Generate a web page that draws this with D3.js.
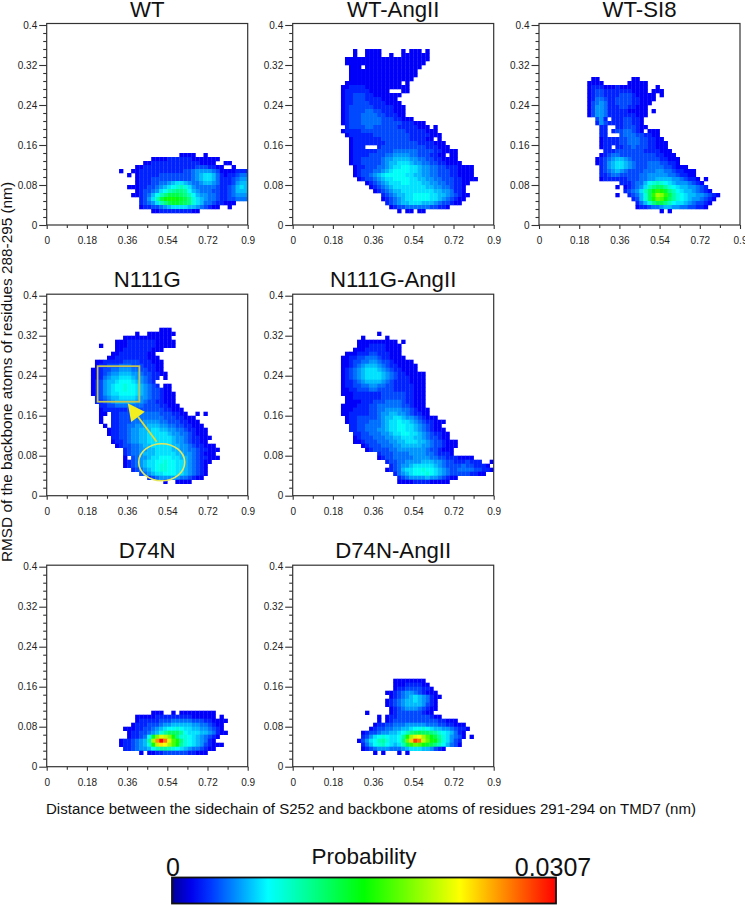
<!DOCTYPE html>
<html lang="en">

<head>
	<meta charset="utf-8">
	<script src='https://d3js.org/d3.v7.min.js'></script>
	<style>
		body { margin: 0; background: #fff; }
		svg { display: block; font-family: "Liberation Sans", sans-serif; }
	</style>
</head>

<body>
	<script>
		var width = 745,
			height = 905;

		// each histogram row: [rmsd bin, first distance bin, levels]
		// levels are base 36 (z = top of the colour bar), "." is an empty bin
		var wtRows = [
			[17, 33, "2222..2"],
			[16, 26, "22223333332222222"],
			[15, 24, "223333333333332222..22"],
			[14, 22, "2233333333333334443322..2"],
			[13, 18, "2..22333333333334456666542222333"],
			[12, 20, "2.2333334444444456788753233455"],
			[11, 22, "2333444444444456788753334566"],
			[10, 22, "2333445567887655677653334677"],
			[9, 20, "222334456789aba865555543345787"],
			[8, 22, "23445689bcddc976555443345777"],
			[7, 21, "2234579bdfffedb97665543345666"],
			[6, 23, "3468bfhiihgfda8765543344555"],
			[5, 23, "34568bdfggfeda8755433222"],
			[4, 23, "23344567888877654322..2"],
			[3, 26, "223333333322"]
		];

		var wtAngRows = [
			[43, 15, "2..2222.....2.222.2"],
			[42, 15, "2..2222..2..2222222"],
			[41, 13, "222222222222222222222"],
			[40, 13, "22222222222222222222"],
			[39, 14, "222.22222222222222"],
			[38, 14, "22222222222222222"],
			[37, 14, "22222222222222222"],
			[36, 14, "2222222222222222"],
			[35, 13, "22222222222222.2"],
			[34, 12, "22333322222222222"],
			[33, 12, "233333322222...22"],
			[32, 12, "233444332222222"],
			[31, 12, "23344433332222"],
			[30, 12, "233444433332222"],
			[29, 12, "2344444433333222"],
			[28, 12, "2344445544333222"],
			[27, 12, "2344455554433322"],
			[26, 12, "234445555544433222"],
			[25, 12, "234445555544444333222"],
			[24, 13, "344445544444433333222.2"],
			[23, 12, "233334444444444433333222"],
			[22, 13, "233333344444444433333222"],
			[21, 14, "233333334444444333322.2"],
			[20, 14, "233333333444444443333222"],
			[19, 14, "2333...344444444444333222"],
			[18, 14, "233333344445555554444332222"],
			[17, 14, "233334444556666554443322.22"],
			[16, 14, "233444445667777665544332222"],
			[15, 14, "2334444456778887665544332222"],
			[14, 15, "233444556788998876655443332222"],
			[13, 15, "234445567899998876655444332222"],
			[12, 15, "234456789999988776655444332222"],
			[11, 16, "234456788999988776655444332222"],
			[10, 18, "23456788899888776655443322"],
			[9, 19, "234567888888887766554332"],
			[8, 20, "23456778888888877665332"],
			[7, 22, "3456778899998877654322"],
			[6, 22, "234567889999887654322"],
			[5, 23, "3456778887776544322"],
			[4, 24, "234455555544332"],
			[3, 26, "2.22.22"]
		];

		var wtSi8Rows = [
			[36, 13, "22........22"],
			[35, 12, "2222......22222"],
			[34, 12, "233322232222222..2"],
			[33, 12, "234433333332222.222"],
			[32, 12, "23443333444322222.2"],
			[31, 12, "23554334444332222"],
			[30, 12, "2456533444433222"],
			[29, 12, "246653334433222"],
			[28, 12, "246653333322222.2"],
			[27, 12, "246653333333222"],
			[26, 14, "463.33344332"],
			[25, 14, "364333344332"],
			[24, 15, "33..33444322"],
			[23, 15, "33.34455432.222"],
			[22, 15, "33...4555443322"],
			[21, 15, "2333344555443322"],
			[20, 15, "23333445554433222"],
			[19, 15, "233.3344544433222"],
			[18, 16, "33344444443333222"],
			[17, 15, "2345544444444433222"],
			[16, 14, "234567765444444433222"],
			[15, 14, "234678876544455544332"],
			[14, 15, "3467887654445555443222"],
			[13, 15, "345676544445556655433222"],
			[12, 15, "334554444455666665543322"],
			[11, 15, "2333333444556677776654332.2"],
			[10, 20, "33345579aba9876665432"],
			[9, 19, "2.234568bdeeca987766543"],
			[8, 21, "34568behjigdb987765432"],
			[7, 19, "2..3457aejnmjfca9877665432"],
			[6, 23, "347aeilkheca987665432"],
			[5, 24, "357adffdb9887654432"],
			[4, 24, "233455677665544332"],
			[3, 30, "2.2"]
		];

		var n111gRows = [
			[41, 28, "222"],
			[40, 22, "2..2222222"],
			[39, 19, "222222222222"],
			[38, 17, "222333333322222"],
			[37, 13, "2...222333333322222"],
			[36, 17, "223333333222"],
			[35, 16, "22333333322"],
			[34, 15, "2233333333222"],
			[33, 12, "22333334444333222"],
			[32, 12, "23344455544433322"],
			[31, 11, "223445566655443322"],
			[30, 11, "2234566777665443322"],
			[29, 11, "22356778887665433.2"],
			[28, 11, "2346778999876543"],
			[27, 11, "23467899a99876543.22"],
			[26, 11, "23467899a99876544322"],
			[25, 11, "234678899998765443222"],
			[24, 12, "34567788887665443222"],
			[23, 12, "33456777776654433222"],
			[22, 13, "33445555555444433222"],
			[21, 13, "233333344444444433222"],
			[20, 13, "22.3344455555554443322..2.2"],
			[19, 13, "2..334445555555544433222"],
			[18, 13, "2..3344455566665544433222"],
			[17, 14, "2.33445566677766554433222"],
			[16, 15, "2334456677788776655433222"],
			[15, 15, "2334456677888887665543222"],
			[14, 16, "3344566778888887665433222"],
			[13, 16, "233456677888888766543322"],
			[12, 17, "2344556778888877665433222"],
			[11, 19, "345566778888776655433222"],
			[10, 19, "34556777888887766543222"],
			[9, 19, "2.4566788999887765433222"],
			[8, 19, "2345678899a99887654322"],
			[7, 19, "234567889aa9988765432"],
			[6, 21, "3456789aa9988765432"],
			[5, 23, "45678899988765432"],
			[4, 25, "34566666554322"],
			[3, 29, "2..2222"]
		];

		var n111gAngRows = [
			[40, 21, "2"],
			[39, 17, "2.....2"],
			[38, 16, "2222222222.2"],
			[37, 16, "22233332222"],
			[36, 15, "222333332222"],
			[35, 13, "22233344333222"],
			[34, 12, "2233445554332222"],
			[33, 12, "223445566544322222"],
			[32, 12, "2234567776543322222"],
			[31, 12, "2345678887654332222"],
			[30, 12, "234567888876543322222"],
			[29, 12, "234567888876543332222"],
			[28, 12, "233456777765433332222"],
			[27, 12, "233445566554433333222"],
			[26, 12, "223344455444433333222"],
			[25, 12, "222333333344444433222"],
			[24, 13, "22333333344444433222"],
			[23, 13, "22223334445555433222"],
			[22, 12, "222233344555555443222"],
			[21, 12, "2223333445566665543222"],
			[20, 12, "2233333445667766543322"],
			[19, 13, "23344444567788766543222"],
			[18, 13, "2334445556788988765433222"],
			[17, 14, "33445555678899887654322"],
			[16, 14, "334455566788998876543222"],
			[15, 15, "334455566788998876543322"],
			[14, 15, "234445556677888776544322"],
			[13, 15, "22344455566778887765443222"],
			[12, 17, "234445556677777665443222"],
			[11, 18, "2344445566666665443222"],
			[10, 21, "3444555566665543332"],
			[9, 21, "234455555666655443332222"],
			[8, 23, "344556666777665443334333..2"],
			[7, 24, "3456678888876544445443332"],
			[6, 23, "234578899a99876544555544332"],
			[5, 25, "35678999a98765444443322"],
			[4, 26, "345666676654322"],
			[3, 26, "2222333322222"]
		];

		var d74nRows = [
			[13, 26, "222..2.222222222"],
			[12, 22, "22222333333333222222.2"],
			[11, 22, "23333344455555444332222"],
			[10, 21, "23334445667777766554322"],
			[9, 19, "2223344567899a98877665432"],
			[8, 20, "23344567aceeec98887765322"],
			[7, 20, "233459gmpomidaa98765432"],
			[6, 18, "2334567cnuzvpkida9876532"],
			[5, 18, "2334567aiorqnkhca987643222"],
			[4, 19, "33456679bccba9876554322"],
			[3, 23, "2.223344444433222"]
		];

		var d74nAngRows = [
			[21, 25, "22222222"],
			[20, 25, "222333322"],
			[19, 25, "2334444332"],
			[18, 23, "2234566543222"],
			[17, 24, "2345678765322"],
			[16, 23, "2345677876532"],
			[15, 23, "2345677776432"],
			[14, 24, "234566654322"],
			[13, 18, "2.....23444444322"],
			[12, 21, "2.23344444444322"],
			[11, 21, "2.234444444444433222"],
			[10, 20, "23344555666665554433222"],
			[9, 19, "2344556677899a98776654332"],
			[8, 17, "23445667789bdefeedca987532"],
			[7, 17, "34689a9889cinpqnkhfca86542.2"],
			[6, 16, "24689bca889dlsxvolihda8643"],
			[5, 17, "3579ab9878bfjlkigfdb97542"],
			[4, 17, "234566655567888776432"],
			[3, 20, "2.2...2.2"]
		];

		var panelNames = ["WT", "WT-AngII", "WT-SI8", "N111G", "N111G-AngII", "D74N", "D74N-AngII"];
		var panelRows = [wtRows, wtAngRows, wtSi8Rows, n111gRows, n111gAngRows, d74nRows, d74nAngRows];
		var panelLeft = [46.7, 292.7, 539, 46.7, 292.7, 46.7, 292.7];
		var panelBase = [225, 225, 225, 495.7, 495.7, 766.7, 766.7];

		var xTicks = [0, 0.18, 0.36, 0.54, 0.72, 0.9];
		var xMinor = [0.09, 0.27, 0.45, 0.63, 0.81];
		var yTicks = [0, 0.08, 0.16, 0.24, 0.32, 0.4];
		var yMinor = [0.016, 0.032, 0.048, 0.064, 0.096, 0.112, 0.128, 0.144, 0.176, 0.192, 0.208, 0.224,
			0.256, 0.272, 0.288, 0.304, 0.336, 0.352, 0.368, 0.384];

		var distBin = 0.018, rmsdBin = 0.008, maxProb = 0.0307;
		var plotW = 201, plotH = 200;

		var x = d3.scaleLinear().domain([0, 0.9]).range([0, plotW]);
		var y = d3.scaleLinear().domain([0, 0.4]).range([plotH, 0]);
		var colours = d3.scaleLinear()
			.domain([0, 0.06, 0.25, 0.5, 0.75, 1].map(function (d) { return d * maxProb; }))
			.range(["#00009a", "#0000ff", "#00ffff", "#00ff00", "#ffff00", "#ff0000"]);

		var svg = d3.select('body')
			.append('svg')
			.attr('width', width)
			.attr('height', height);

		var defs = svg.append('defs');
		defs.append('filter').attr('id', 'soft')
			.append('feGaussianBlur').attr('stdDeviation', 0.55);

		// flatten the rows of one panel to bins
		function toBins(rows) {
			var bins = [];
			rows.forEach(function (r) {
				r[2].split('').forEach(function (c, i) {
					if (c !== '.') bins.push({
						dist: (r[1] + i) * distBin,
						rmsd: r[0] * rmsdBin,
						prob: parseInt(c, 36) / 35 * maxProb
					});
				});
			});
			return bins;
		}

		var panels = svg.selectAll('g.panel')
			.data(panelNames)
			.join('g')
			.attr('class', 'panel')
			.attr('transform', function (d, i) {
				return 'translate(' + panelLeft[i] + ',' + (panelBase[i] - plotH) + ')';
			});

		panels.each(function (name, i) {
			var g = d3.select(this);

			g.append('g').attr('filter', 'url(#soft)')
				.selectAll('rect')
				.data(toBins(panelRows[i]))
				.join('rect')
				.attr('x', function (d) { return x(d.dist); })
				.attr('y', function (d) { return y(d.rmsd + rmsdBin); })
				.attr('width', x(distBin) + 0.3)
				.attr('height', y(0) - y(rmsdBin) + 0.3)
				.attr('fill', function (d) { return colours(d.prob); });

			g.append('rect')
				.attr('x', 0).attr('y', -1.5)
				.attr('width', plotW).attr('height', plotH + 1.5)
				.attr('fill', 'none').attr('stroke', '#333').attr('stroke-width', 1.2);

			g.append('g').attr('transform', 'translate(0,' + plotH + ')')
				.call(d3.axisBottom(x).tickValues(xTicks).tickSize(4).tickPadding(8).tickFormat(d3.format('')));
			g.append('g')
				.call(d3.axisLeft(y).tickValues(yTicks).tickSize(7.5).tickPadding(2).tickFormat(d3.format('')));

			g.append('g').attr('transform', 'translate(0,' + plotH + ')')
				.call(d3.axisBottom(x).tickValues(xMinor).tickSize(3).tickFormat(''));
			g.append('g')
				.call(d3.axisLeft(y).tickValues(yMinor).tickSize(3.5).tickFormat(''));

			g.selectAll('.domain').remove();
			g.selectAll('.tick line').attr('stroke', '#333').attr('stroke-width', 1.1);
			g.selectAll('.tick text').attr('fill', '#222').style('font-size', '10px')
				.style('font-family', '"Liberation Sans", sans-serif');

			g.append('text')
				.attr('x', plotW / 2)
				.attr('y', plotH - 208.4)
				.attr('text-anchor', 'middle')
				.attr('fill', '#111')
				.style('font-size', '22.2px')
				.text(name);
		});

		// annotation on the N111G panel, in data units
		var boxDist = [0.228, 0.415], boxRmsd = [0.188, 0.259];
		var ringCentre = [0.515, 0.0668], ringRadius = [0.103, 0.037];
		var arrowFrom = [0.4925, 0.108], arrowTo = [0.363, 0.185];

		var marks = panels.filter(function (d) { return d === "N111G"; }).append('g');

		marks.append('rect')
			.attr('x', x(boxDist[0])).attr('y', y(boxRmsd[1]))
			.attr('width', x(boxDist[1]) - x(boxDist[0]))
			.attr('height', y(boxRmsd[0]) - y(boxRmsd[1]))
			.attr('fill', 'none').attr('stroke', '#c4c450').attr('stroke-width', 1.8);

		marks.append('ellipse')
			.attr('cx', x(ringCentre[0])).attr('cy', y(ringCentre[1]))
			.attr('rx', x(ringRadius[0])).attr('ry', y(0) - y(ringRadius[1]))
			.attr('fill', 'none').attr('stroke', '#e6e65a').attr('stroke-width', 1.6);

		var ax = x(arrowFrom[0]), ay = y(arrowFrom[1]), bx = x(arrowTo[0]), by = y(arrowTo[1]);
		var len = Math.hypot(bx - ax, by - ay), ux = (bx - ax) / len, uy = (by - ay) / len;
		var headLen = 17, headHalf = 8.5;

		marks.append('line')
			.attr('x1', ax).attr('y1', ay)
			.attr('x2', bx - ux * headLen).attr('y2', by - uy * headLen)
			.attr('stroke', '#e0dc30').attr('stroke-width', 1.8);

		marks.append('polygon')
			.attr('points', [
				[bx, by],
				[bx - ux * headLen - uy * headHalf, by - uy * headLen + ux * headHalf],
				[bx - ux * headLen + uy * headHalf, by - uy * headLen - ux * headHalf]
			].join(' '))
			.attr('fill', '#f2ee20');

		// axis titles
		svg.append('text')
			.attr('transform', 'translate(11.5,372) rotate(-90)')
			.attr('text-anchor', 'middle')
			.attr('fill', '#111')
			.attr('textLength', 380)
			.attr('lengthAdjust', 'spacingAndGlyphs')
			.style('font-size', '14.5px')
			.text('RMSD of the backbone atoms of residues 288-295 (nm)');

		svg.append('text')
			.attr('x', 371)
			.attr('y', 814)
			.attr('text-anchor', 'middle')
			.attr('fill', '#111')
			.attr('textLength', 650)
			.attr('lengthAdjust', 'spacingAndGlyphs')
			.style('font-size', '14px')
			.text('Distance between the sidechain of S252 and backbone atoms of residues 291-294 on TMD7 (nm)');

		// colour bar
		var barX = d3.scaleLinear().domain([0, maxProb]).range([172, 556]);
		var barSteps = d3.range(0, 1.0001, 0.05);
		var grad = defs.append('linearGradient').attr('id', 'bar');
		grad.selectAll('stop')
			.data(barSteps)
			.join('stop')
			.attr('offset', function (d) { return d; })
			.attr('stop-color', function (d) { return colours(d * maxProb); });

		svg.append('rect')
			.attr('x', barX(0)).attr('y', 877.5)
			.attr('width', barX(maxProb) - barX(0)).attr('height', 26)
			.attr('fill', 'url(#bar)')
			.attr('stroke', '#111').attr('stroke-width', 1.8);

		svg.append('text')
			.attr('x', 364).attr('y', 864)
			.attr('text-anchor', 'middle').attr('fill', '#111')
			.style('font-size', '22.5px')
			.text('Probability');

		svg.append('text')
			.attr('x', 173).attr('y', 876)
			.attr('text-anchor', 'middle').attr('fill', '#111')
			.style('font-size', '25px')
			.text('0');

		svg.append('text')
			.attr('x', 553).attr('y', 876)
			.attr('text-anchor', 'middle').attr('fill', '#111')
			.style('font-size', '25px')
			.text('0.0307');
	</script>

</body>

</html>
